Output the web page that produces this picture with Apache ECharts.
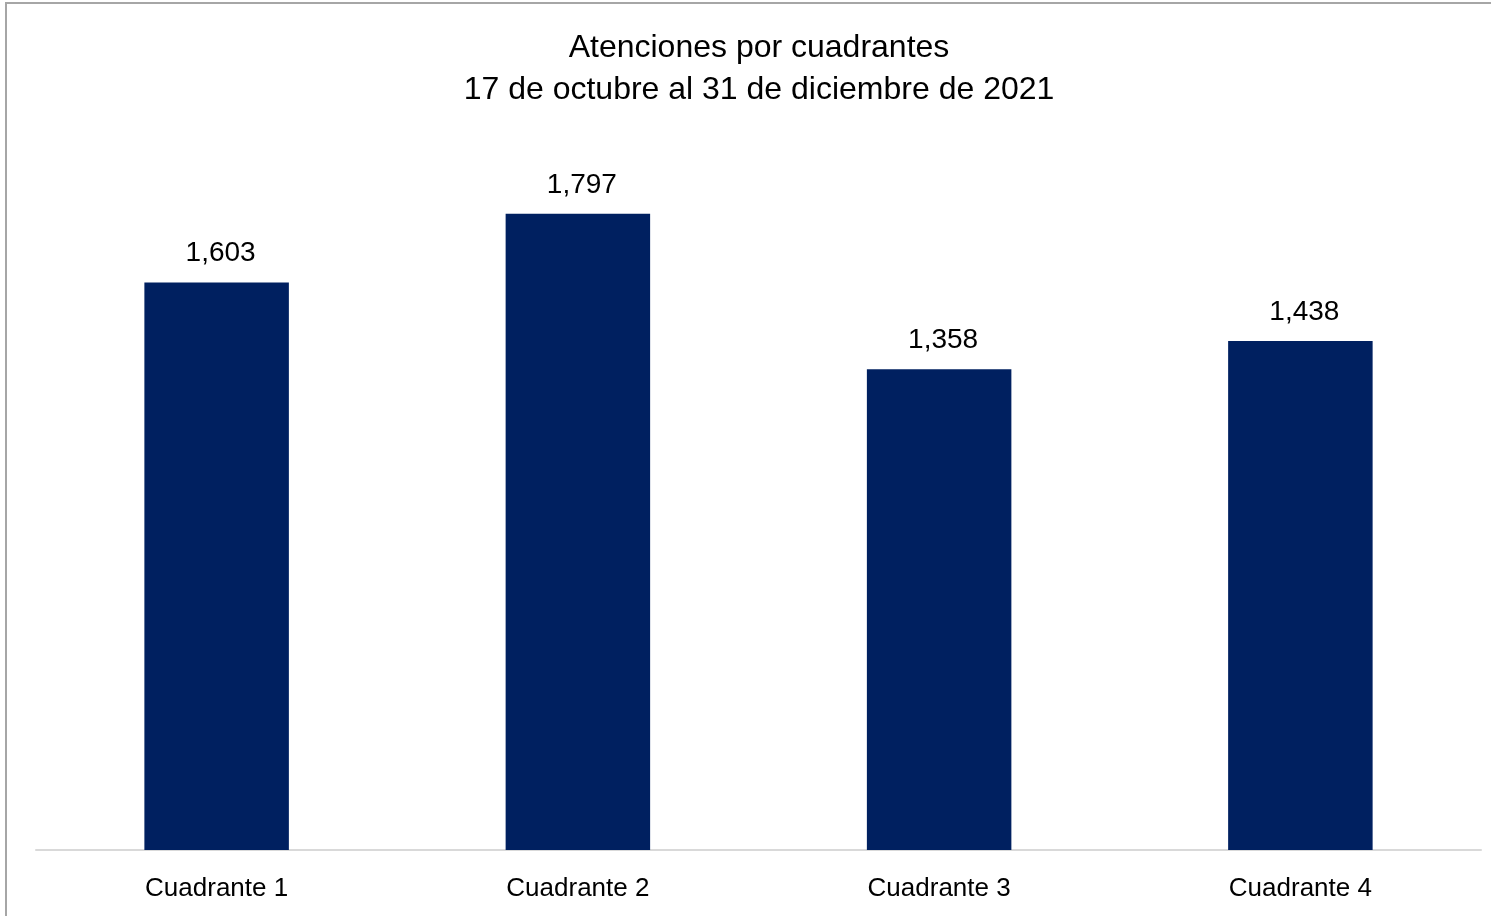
<!DOCTYPE html>
<html>
<head>
<meta charset="utf-8">
<script src="https://cdn.jsdelivr.net/npm/echarts@6/dist/echarts.min.js"></script>
<style>
  html, body { margin: 0; padding: 0; background: #fff; }
  #frame {
    position: absolute; left: 5px; top: 2px; width: 1500px; height: 930px;
    border-left: 2px solid #a6a6a6; border-top: 2px solid #a6a6a6;
  }
  #chart { position: absolute; left: 0; top: 0; width: 1491px; height: 916px; }
</style>
</head>
<body>
<div id="frame"></div>
<div id="chart"></div>
<script>
const categories = ['Cuadrante 1', 'Cuadrante 2', 'Cuadrante 3', 'Cuadrante 4'];
const values = [1603, 1797, 1358, 1438];
const titleLines = ['Atenciones por cuadrantes', '17 de octubre al 31 de diciembre de 2021'];

const font = 'Liberation Sans, Arial, sans-serif';
const chart = echarts.init(document.getElementById('chart'));
const option = {
  animation: false,
  backgroundColor: 'transparent',
  title: {
    text: titleLines.join('\n'),
    left: 754,
    textAlign: 'center',
    top: 22,
    textStyle: {
      fontFamily: font,
      fontWeight: 'normal',
      fontSize: 32,
      lineHeight: 42,
      color: '#000'
    }
  },
  grid: { left: 36, right: 10, top: 142, bottom: 66 },
  xAxis: {
    type: 'category',
    data: categories,
    axisTick: { show: false },
    axisLine: { lineStyle: { color: '#d9d9d9', width: 2 } },
    axisLabel: { fontFamily: font, fontSize: 26, color: '#000', margin: 26 }
  },
  yAxis: {
    type: 'value',
    min: 0,
    max: 2000,
    show: false,
    splitLine: { show: false }
  },
  series: [{
    type: 'bar',
    data: values,
    barWidth: '40%',
    itemStyle: { color: '#002060' },
    label: {
      show: true,
      position: 'top',
      distance: 15,
      offset: [4, 0],
      fontFamily: font,
      fontSize: 28,
      color: '#000',
      formatter: p => p.value.toLocaleString('en-US')
    }
  }]
};
option && chart.setOption(option);
</script>
</body>
</html>
